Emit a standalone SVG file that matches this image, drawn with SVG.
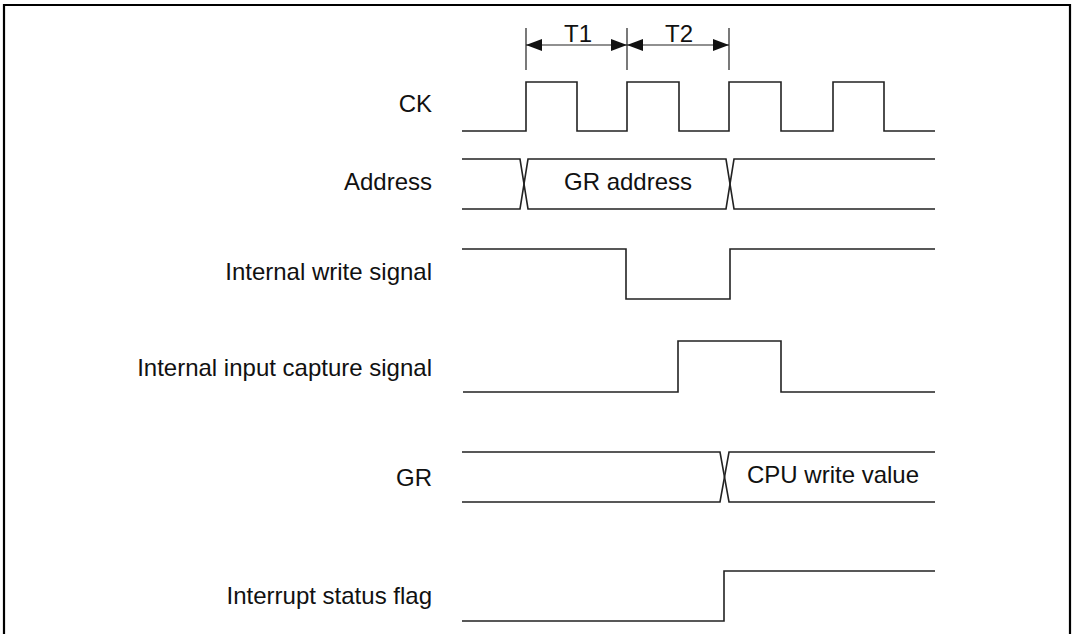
<svg xmlns="http://www.w3.org/2000/svg" width="1074" height="634" viewBox="0 0 1074 634">
<style>
.sig{fill:none;stroke:#222;stroke-width:1.6;stroke-linejoin:miter}
.lbl{font-family:"Liberation Sans",Arial,sans-serif;font-size:24px;fill:#111}
.dim{fill:none;stroke:#222;stroke-width:1.2}
.t{font-family:"Liberation Sans",Arial,sans-serif;font-size:24px;fill:#111}
</style>
<defs>
<marker id="ah" viewBox="0 0 16 12" refX="16" refY="6" markerWidth="16" markerHeight="12" markerUnits="userSpaceOnUse" orient="auto-start-reverse">
<path d="M0,0 L16,6 L0,12 Z" fill="#111"/>
</marker>
</defs>
<rect width="1074" height="634" fill="#fff"/>
<path d="M4,640 V5 H1070 V640" fill="none" stroke="#000" stroke-width="2.2"/>

<g id="labels">
<text class="lbl" x="432" y="112" text-anchor="end">CK</text>
<text class="lbl" x="432" y="190" text-anchor="end">Address</text>
<text class="lbl" x="432" y="280" text-anchor="end">Internal write signal</text>
<text class="lbl" x="432" y="376" text-anchor="end">Internal input capture signal</text>
<text class="lbl" x="432" y="486" text-anchor="end">GR</text>
<text class="lbl" x="432" y="604" text-anchor="end">Interrupt status flag</text>
</g>

<g id="timing">
<path class="dim" d="M526,28 V70 M627,28 V70 M729,28 V70"/>
<line class="dim" x1="526" y1="45" x2="627" y2="45" marker-start="url(#ah)" marker-end="url(#ah)"/>
<line class="dim" x1="627" y1="45" x2="729" y2="45" marker-start="url(#ah)" marker-end="url(#ah)"/>
<text class="t" x="578" y="42" text-anchor="middle">T1</text>
<text class="t" x="679" y="42" text-anchor="middle">T2</text>
</g>

<g id="ck">
<path class="sig" d="M462,131 H526 V82 H577 V131 H627 V82 H679 V131 H729 V82 H781 V131 H833 V82 H884 V131 H935"/>
</g>

<g id="address">
<path class="sig" d="M462,159 H520 L528,209 H726 L734,159 H935"/>
<path class="sig" d="M462,209 H520 L528,159 H726 L734,209 H935"/>
<text class="lbl" x="628" y="190" text-anchor="middle">GR address</text>
</g>

<g id="write">
<path class="sig" d="M462,249 H626 V299 H730 V249 H935"/>
</g>

<g id="capture">
<path class="sig" d="M463,392 H678 V341 H781 V392 H935"/>
</g>

<g id="gr">
<path class="sig" d="M462,452 H720 L729,502 H935"/>
<path class="sig" d="M462,502 H720 L729,452 H935"/>
<text class="lbl" x="833" y="483" text-anchor="middle">CPU write value</text>
</g>

<g id="interrupt">
<path class="sig" d="M462,621 H724 V571 H935"/>
</g>
</svg>
